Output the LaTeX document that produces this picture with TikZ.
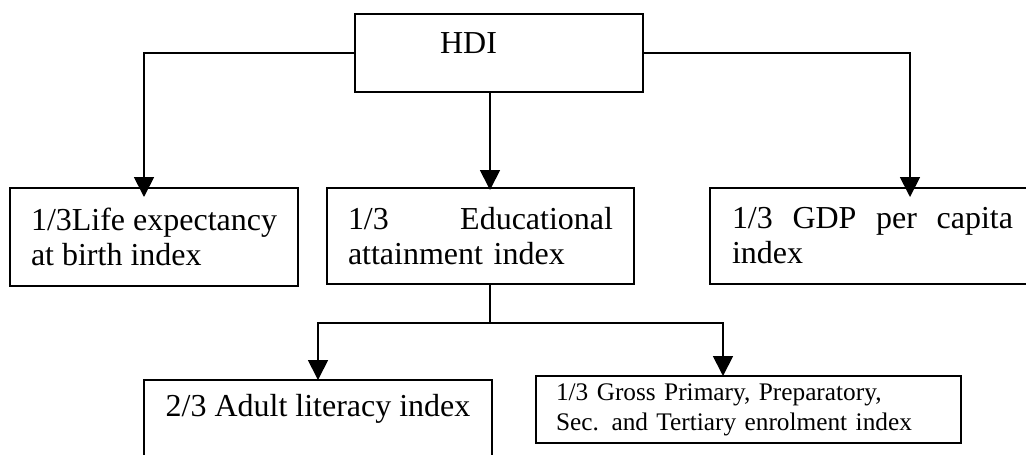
\documentclass[tikz,border=0pt]{standalone}
\usepackage{fontspec}
\setmainfont{Liberation Serif}
\usetikzlibrary{positioning,arrows.meta}

\begin{document}
\begin{tikzpicture}[>={Triangle[length=0.4cm,width=0.4cm]},line width=1pt,
	blk/.style={draw=black,rectangle,outer sep=0pt,anchor=north west,font=\fontsize{18.2}{19.9}\selectfont},
	txt/.style={align=left,inner xsep=0.42cm}]
	\useasboundingbox (0,0) rectangle (20.52,-9.08);

	\node [blk,minimum width=5.76cm,minimum height=1.56cm] at (7.10,-0.28) (hdi) {\raisebox{0.4cm}{HDI}\hspace*{1.22cm}};

	\node [blk,txt,minimum width=5.76cm,minimum height=1.96cm] at (0.20,-3.76) (life) {1/3Life expectancy\\at birth index};
	\node [blk,txt,text width=5.30cm,minimum height=1.92cm] at (6.54,-3.76) (edu) {1/3\hfill Educational\\attainment index};
	\node [blk,txt,text width=5.62cm,inner xsep=0.44cm,minimum height=1.92cm] at (14.20,-3.76) (gdp) {1/3\hfill GDP\hfill per\hfill capita\\index};

	\node [blk,txt,minimum width=6.96cm,inner ysep=0.28cm,text depth=2cm] at (2.88,-7.60) (lit) {2/3 Adult literacy index};
	\node [blk,txt,text width=7.70cm,inner xsep=0.40cm,minimum height=1.34cm,font=\fontsize{14.4}{17}\selectfont] at (10.72,-7.52) (enrol) {1/3 Gross Primary, Preparatory,\\Sec. and Tertiary enrolment index};

	\coordinate (mid) at (9.80,0);
	\coordinate (lifein) at (2.88,0);
	\coordinate (gdpin) at (18.20,0);
	\coordinate (enrolin) at (14.46,0);
	\coordinate (split) at (9.80,-6.46);

	\draw[->,shorten >=-0.18cm] (hdi.west) -| (lifein |- life.north);
	\draw[->,shorten >=-0.04cm] (hdi.south -| mid) -- (edu.north -| mid);
	\draw[->,shorten >=-0.18cm] (hdi.east) -| (gdpin |- gdp.north);

	\draw (edu.south -| mid) -- (split);
	\draw[->] (split) -| (lit.north);
	\draw[->] (split) -| (enrolin |- enrol.north);
\end{tikzpicture}
\end{document}
